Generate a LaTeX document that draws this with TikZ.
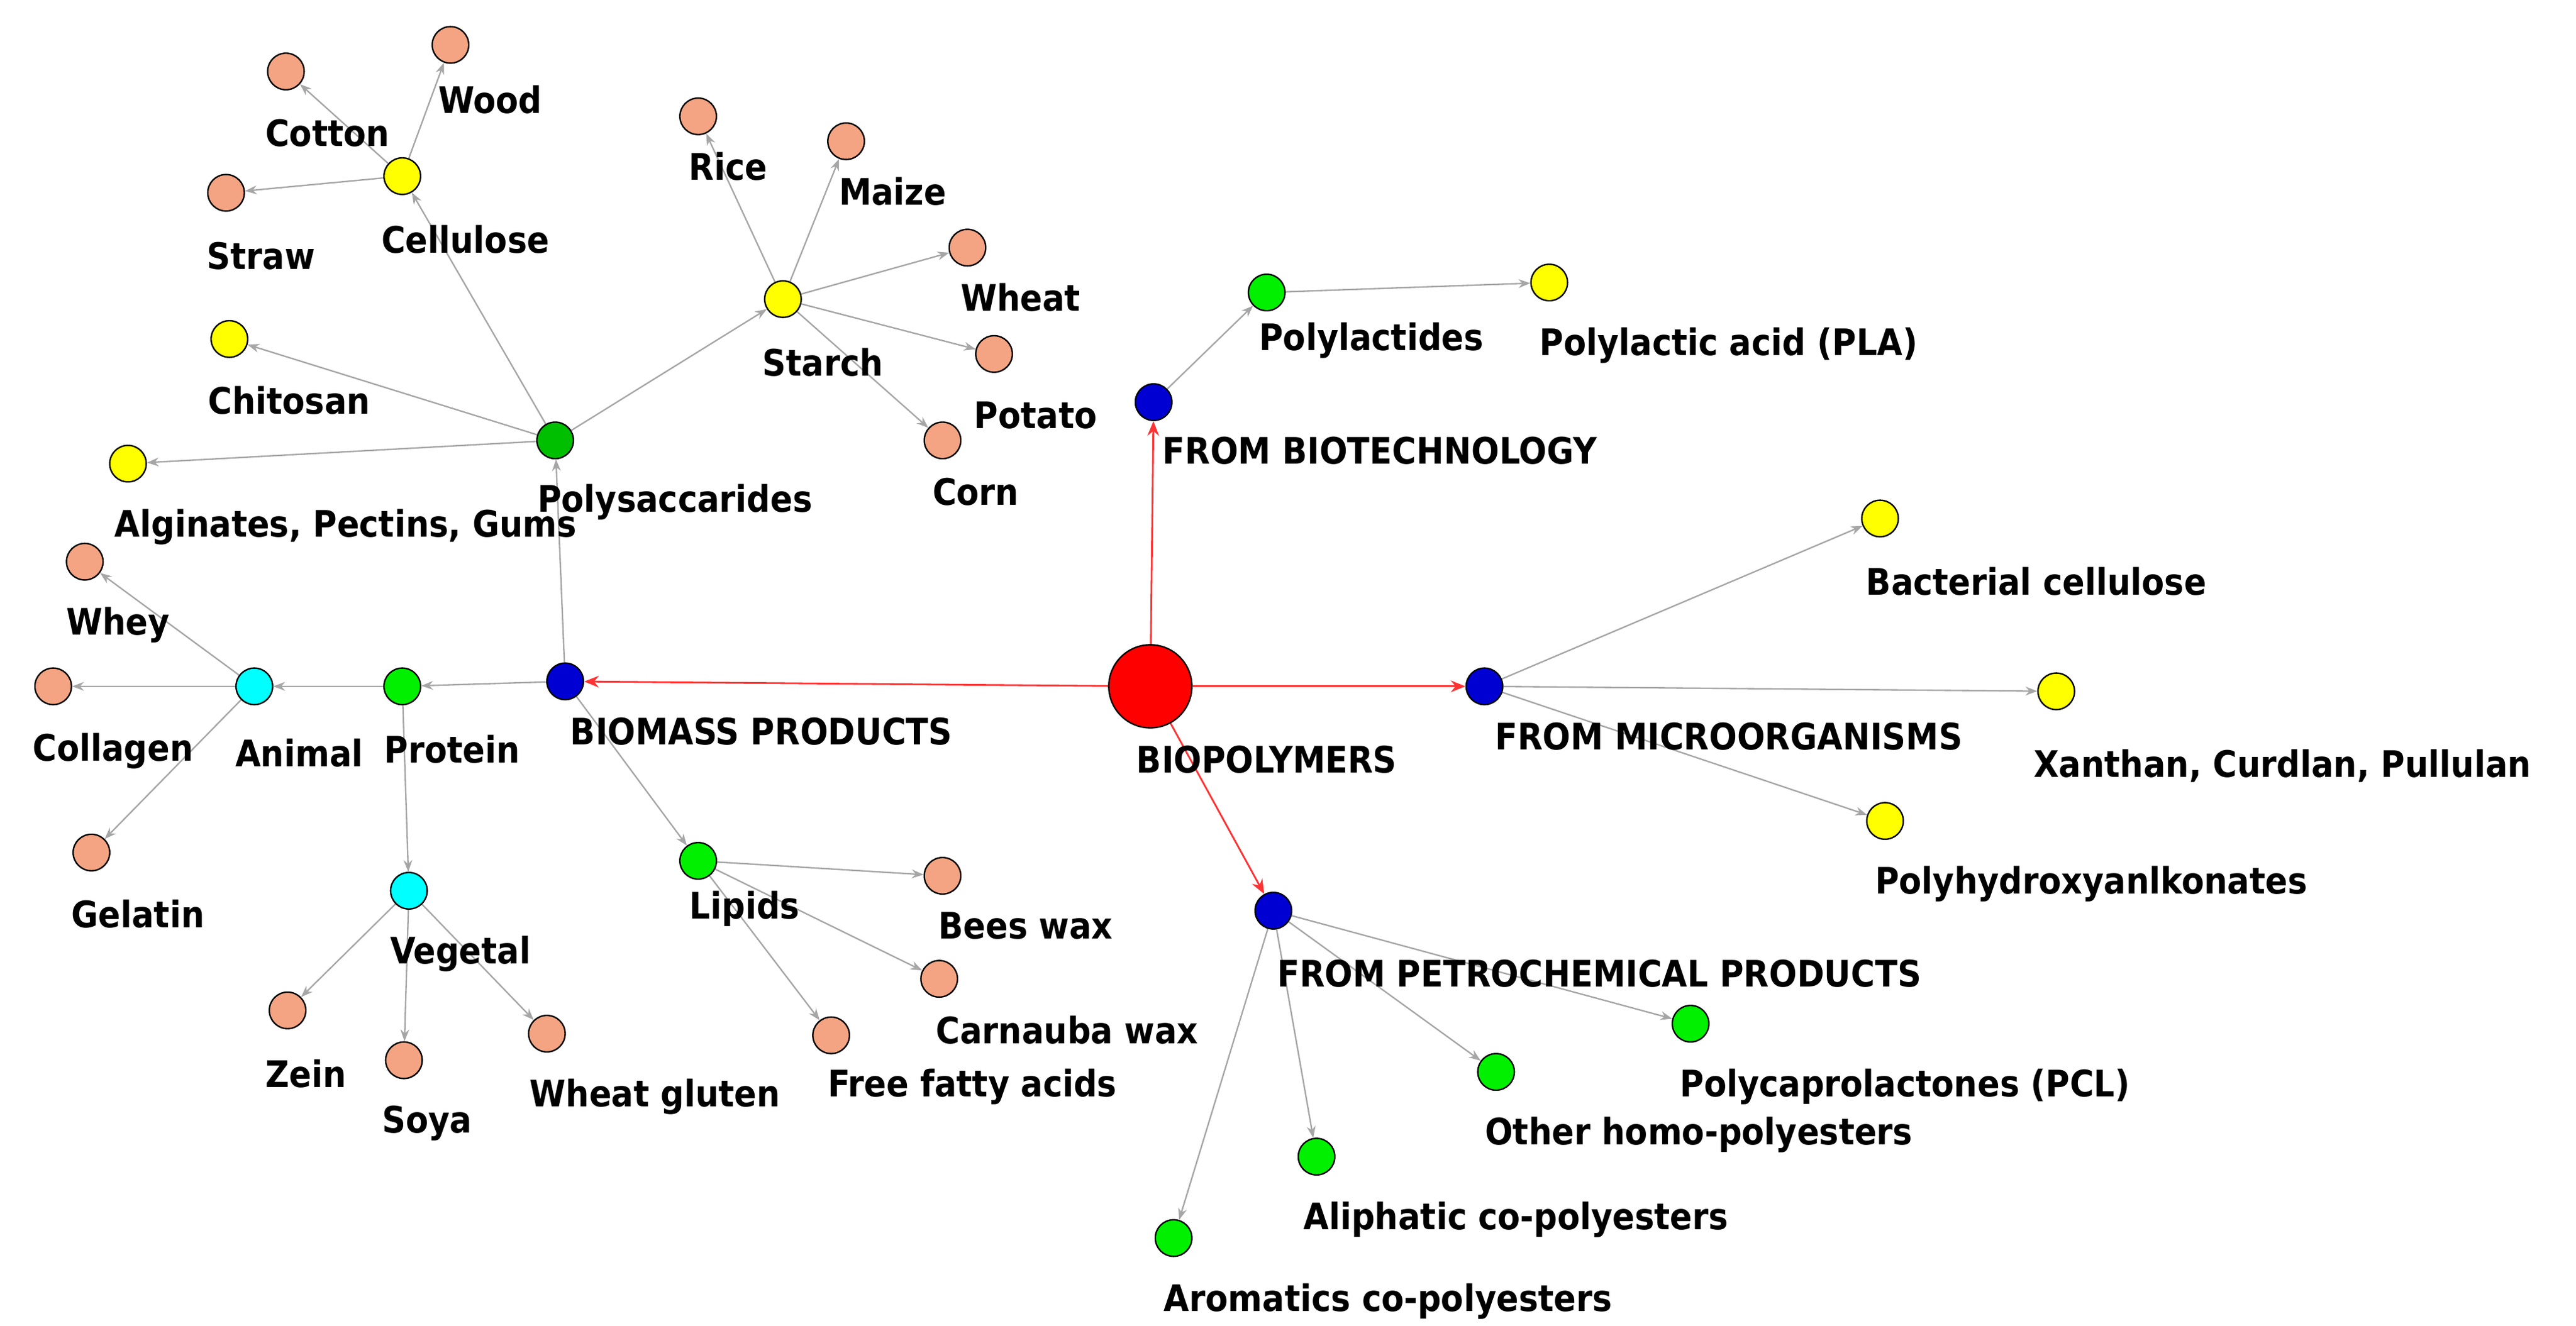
\documentclass[tikz,border=0pt]{standalone}
\usepackage{fontspec}
\setmainfont{DejaVu Sans Condensed}
\usetikzlibrary{arrows.meta,backgrounds}
\definecolor{sal}{RGB}{244,164,130}
\definecolor{yel}{RGB}{255,255,0}
\definecolor{grn}{RGB}{0,240,0}
\definecolor{dgrn}{RGB}{0,190,0}
\definecolor{blu}{RGB}{0,0,210}
\definecolor{cya}{RGB}{0,255,255}
\tikzset{
 circ/.style={circle,draw=black,line width=0.5pt,minimum size=0.44cm,inner sep=0pt},
 lab/.style={font=\fontsize{12.5}{14}\selectfont\bfseries,inner sep=0pt},
 ed/.style={draw=gray!70,line width=0.5pt,-{Stealth[length=4pt,width=3pt]}},
 redge/.style={draw=red!80,line width=0.6pt,-{Stealth[length=5pt,width=4pt]}}
}
\newcommand{\ND}[4]{\node[circ,fill=#2] (#1) at (#3*0.02,-#4*0.02) {};}
\newcommand{\LB}[4]{\node[lab] (#1) at (#2*0.02,-#3*0.02) {#4};}
\begin{document}
\begin{tikzpicture}
\useasboundingbox (0,0) rectangle (31,-15.96);
\node[circle,draw=black,line width=0.5pt,fill=red,minimum size=1.0cm,inner sep=0pt] (bio) at (692*0.02,-413*0.02) {};
\ND{bt}{blu}{694}{242}
\ND{pla1}{grn}{762}{176}
\ND{pla}{yel}{932}{170}
\ND{mo}{blu}{893}{413}
\ND{bc}{yel}{1131}{312}
\ND{xa}{yel}{1237}{416}
\ND{ph}{yel}{1134}{494}
\ND{pe}{blu}{766}{548}
\ND{pcl}{grn}{1017}{616}
\ND{oh}{grn}{900}{645}
\ND{al}{grn}{792}{696}
\ND{ar}{grn}{706}{745}
\ND{bm}{blu}{340}{410}
\ND{ps}{dgrn}{334}{265}
\ND{alg}{yel}{77}{279}
\ND{chi}{yel}{138}{204}
\ND{cel}{yel}{242}{106}
\ND{cot}{sal}{172}{43}
\ND{woo}{sal}{271}{27}
\ND{str}{sal}{136}{116}
\ND{sta}{yel}{471}{180}
\ND{ric}{sal}{420}{70}
\ND{mai}{sal}{509}{85}
\ND{whe}{sal}{582}{149}
\ND{pot}{sal}{598}{213}
\ND{cor}{sal}{567}{265}
\ND{pro}{grn}{242}{413}
\ND{ani}{cya}{153}{413}
\ND{why}{sal}{51}{338}
\ND{col}{sal}{32}{413}
\ND{gel}{sal}{55}{513}
\ND{veg}{cya}{246}{536}
\ND{zei}{sal}{173}{608}
\ND{soy}{sal}{243}{638}
\ND{wgl}{sal}{329}{622}
\ND{lip}{grn}{420}{518}
\ND{bee}{sal}{567}{527}
\ND{car}{sal}{565}{589}
\ND{ffa}{sal}{500}{623}
\LB{lbio}{762}{457}{BIOPOLYMERS}
\LB{lbt}{830}{271}{FROM BIOTECHNOLOGY}
\LB{lpla1}{825}{205}{Polylactides}
\LB{lpla}{1040}{208}{Polylactic acid (PLA)}
\LB{lmo}{1040}{443}{FROM MICROORGANISMS}
\LB{lbc}{1225}{350}{Bacterial cellulose}
\LB{lxa}{1373}{461}{Xanthan, Curdlan, Pullulan}
\LB{lph}{1258}{532}{Polyhydroxyanlkonates}
\LB{lpe}{962}{586}{FROM PETROCHEMICAL PRODUCTS}
\LB{lpcl}{1146}{654}{Polycaprolactones (PCL)}
\LB{loh}{1022}{683}{Other homo-polyesters}
\LB{lal}{912}{734}{Aliphatic co-polyesters}
\LB{lar}{835}{783}{Aromatics co-polyesters}
\LB{lbm}{458}{440}{BIOMASS PRODUCTS}
\LB{lps}{406}{302}{Polysaccarides}
\LB{lalg}{208}{317}{Alginates, Pectins, Gums}
\LB{lchi}{174}{241}{Chitosan}
\LB{lcel}{280}{144}{Cellulose}
\LB{lcot}{197}{80}{Cotton}
\LB{lwoo}{295}{60}{Wood}
\LB{lstr}{157}{154}{Straw}
\LB{lsta}{495}{218}{Starch}
\LB{lric}{438}{100}{Rice}
\LB{lmai}{537}{115}{Maize}
\LB{lwhe}{614}{179}{Wheat}
\LB{lpot}{623}{250}{Potato}
\LB{lcor}{587}{296}{Corn}
\LB{lpro}{272}{451}{Protein}
\LB{lani}{180}{453}{Animal}
\LB{lwhy}{71}{376}{Whey}
\LB{lcol}{68}{452}{Collagen}
\LB{lgel}{83}{550}{Gelatin}
\LB{lveg}{277}{574}{Vegetal}
\LB{lzei}{184}{646}{Zein}
\LB{lsoy}{257}{676}{Soya}
\LB{lwgl}{394}{660}{Wheat gluten}
\LB{llip}{448}{547}{Lipids}
\LB{lbee}{617}{557}{Bees wax}
\LB{lcar}{642}{620}{Carnauba wax}
\LB{lffa}{585}{654}{Free fatty acids}
\begin{scope}[on background layer]
\foreach \a/\b in {bio/bt,bio/mo,bio/pe,bio/bm} \draw[redge] (\a) -- (\b);
\foreach \a/\b in {bt/pla1,pla1/pla,mo/bc,mo/xa,mo/ph,pe/pcl,pe/oh,pe/al,pe/ar,
 bm/ps,ps/alg,ps/chi,ps/cel,cel/cot,cel/woo,cel/str,ps/sta,sta/ric,sta/mai,sta/whe,sta/pot,sta/cor,
 bm/pro,pro/ani,ani/why,ani/col,ani/gel,pro/veg,veg/zei,veg/soy,veg/wgl,
 bm/lip,lip/bee,lip/car,lip/ffa} \draw[ed] (\a) -- (\b);
\end{scope}
\end{tikzpicture}
\end{document}
